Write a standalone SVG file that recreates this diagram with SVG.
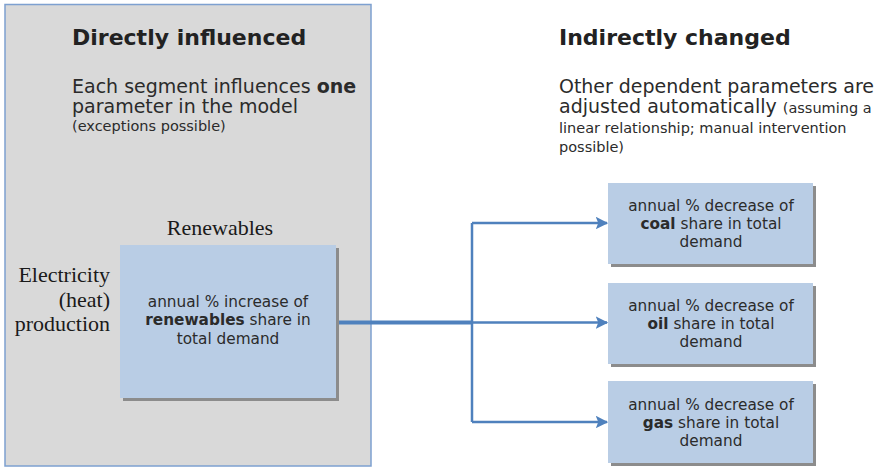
<svg xmlns="http://www.w3.org/2000/svg" width="877" height="468" viewBox="0 0 877 468">
  <defs>
    <style>
      .sans { font-family: "DejaVu Sans", Verdana, sans-serif; fill: #2b2b2b; }
      .serif { font-family: "Liberation Serif", "Times New Roman", serif; fill: #1a1a1a; font-size: 22px; }
      .head { font-size: 22px; font-weight: bold; fill: #222; }
      .body { font-size: 19px; }
      .small { font-size: 14.5px; }
      .node { fill: #b9cde5; }
      .shadow { fill: #8c8c8c; }
      .ntext { font-size: 15.3px; text-anchor: middle; }
      .conn { fill: none; stroke: #4f81bd; stroke-width: 2.5; }
    </style>
    <marker id="arrow" viewBox="0 0 10 10" refX="9" refY="5" markerWidth="5" markerHeight="5" orient="auto" markerUnits="strokeWidth">
      <path d="M0,0 L10,5 L0,10 L2,5 z" fill="#4f81bd"/>
    </marker>
  </defs>

  <!-- left panel -->
  <g id="panel-direct">
    <rect x="5" y="4.5" width="366" height="461.5" fill="#d9d9d9" stroke="#7da0d0" stroke-width="1.5"/>
    <text class="sans head" x="72" y="45">Directly influenced</text>
    <text class="sans body" x="72" y="93">Each segment influences <tspan font-weight="bold">one</tspan></text>
    <text class="sans body" x="72" y="113">parameter in the model</text>
    <text class="sans small" x="72" y="131">(exceptions possible)</text>
    <text class="serif" x="220" y="235" text-anchor="middle">Renewables</text>
    <text class="serif" x="110" y="282" text-anchor="end">Electricity</text>
    <text class="serif" x="110" y="307" text-anchor="end">(heat)</text>
    <text class="serif" x="110" y="331" text-anchor="end">production</text>
  </g>

  <!-- right heading -->
  <g id="panel-indirect">
    <text class="sans head" x="559" y="45">Indirectly changed</text>
    <text class="sans body" x="559" y="93" textLength="315">Other dependent parameters are</text>
    <text class="sans body" x="559" y="113">adjusted automatically <tspan font-size="14.5">(assuming a</tspan></text>
    <text class="sans small" x="559" y="133">linear relationship; manual intervention</text>
    <text class="sans small" x="559" y="152">possible)</text>
  </g>

  <!-- connectors -->
  <g id="connectors">
    <path d="M337,322.5 H472" fill="none" stroke="#4f81bd" stroke-width="4"/>
    <path class="conn" d="M472,223 V422"/>
    <path class="conn" d="M472,223 H607" marker-end="url(#arrow)"/>
    <path class="conn" d="M472,322.5 H607" marker-end="url(#arrow)"/>
    <path class="conn" d="M472,422 H607" marker-end="url(#arrow)"/>
  </g>

  <g id="node-renewables">
    <rect class="shadow" x="123" y="248" width="216" height="153"/>
    <rect class="node" x="120" y="245" width="216" height="153"/>
    <text class="sans ntext" x="228" y="307">annual % increase of</text>
    <text class="sans ntext" x="228" y="325"><tspan font-weight="bold">renewables</tspan> share in</text>
    <text class="sans ntext" x="228" y="344">total demand</text>
  </g>

  <g id="node-coal">
    <rect class="shadow" x="611" y="186" width="205" height="81"/>
    <rect class="node" x="608" y="183" width="205" height="81"/>
    <text class="sans ntext" x="711" y="211">annual % decrease of</text>
    <text class="sans ntext" x="711" y="229"><tspan font-weight="bold">coal</tspan> share in total</text>
    <text class="sans ntext" x="711" y="247">demand</text>
  </g>

  <g id="node-oil">
    <rect class="shadow" x="611" y="286" width="205" height="81"/>
    <rect class="node" x="608" y="283" width="205" height="81"/>
    <text class="sans ntext" x="711" y="311">annual % decrease of</text>
    <text class="sans ntext" x="711" y="329"><tspan font-weight="bold">oil</tspan> share in total</text>
    <text class="sans ntext" x="711" y="347">demand</text>
  </g>

  <g id="node-gas">
    <rect class="shadow" x="611" y="384" width="205" height="82"/>
    <rect class="node" x="608" y="381" width="205" height="82"/>
    <text class="sans ntext" x="711" y="410">annual % decrease of</text>
    <text class="sans ntext" x="711" y="428"><tspan font-weight="bold">gas</tspan> share in total</text>
    <text class="sans ntext" x="711" y="446">demand</text>
  </g>
</svg>
